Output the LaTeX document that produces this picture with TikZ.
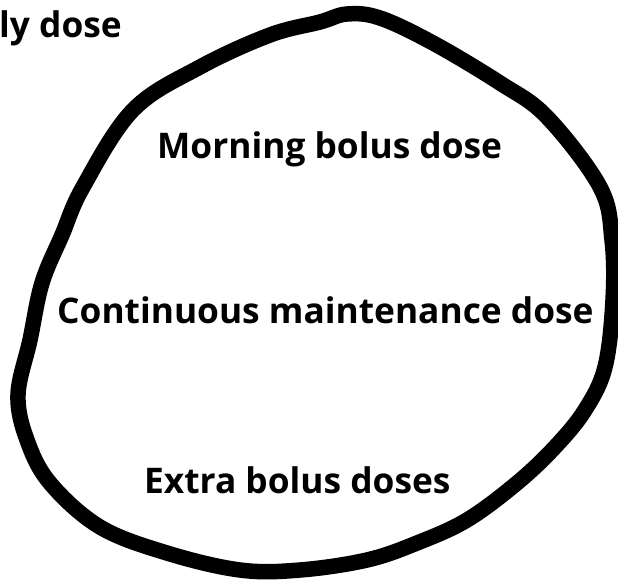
\documentclass[tikz,border=0pt]{standalone}
\usepackage{fontspec}
\setmainfont{Open Sans}
\begin{document}
\begin{tikzpicture}[x=1pt,y=-1pt,
  lbl/.style={font=\bfseries\fontsize{35.3}{40}\selectfont, inner sep=0pt, anchor=base west},
  blob/.style={line width=15.5pt, line join=round, line cap=round}]
\useasboundingbox (0,0) rectangle (618,579);
\draw[blob] plot[smooth cycle, tension=0.6] coordinates {
 (347,14) (380,18) (433,43) (500,83) (547,117) (600,187) (612,240) (613,300)
 (605,367) (585,410) (555,447) (517,483) (467,520) (417,543) (367,560) (300,570)
 (240,570) (167,553) (100,527) (50,483) (27,440) (18,395) (30,340) (42,283)
 (62,235) (83,187) (133,110) (200,67) (270,35) (320,22)};
\node[lbl] (daily) at (-1,37) {ly dose};
\node[lbl] (morning) at (157,158) {Morning bolus dose};
\node[lbl] (cont) at (57,323) {Continuous maintenance dose};
\node[lbl] (extra) at (144,493) {Extra bolus doses};
\end{tikzpicture}
\end{document}
